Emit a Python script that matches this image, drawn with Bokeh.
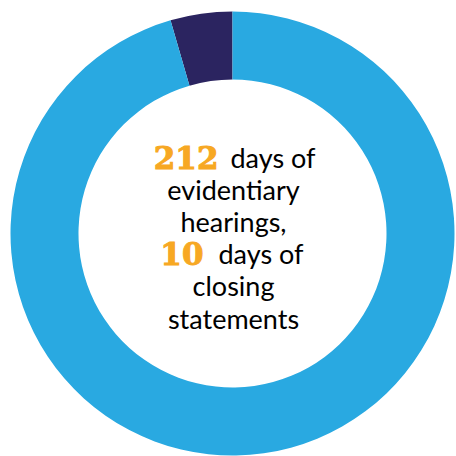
import numpy as np
from bokeh.plotting import figure
from bokeh.models import Range1d, ColumnDataSource
from bokeh.core.properties import value
from bokeh.embed import file_html
from bokeh.resources import INLINE

categories = ["closing statements", "evidentiary hearings"]
days = [10, 212]
colors = ["#2b2460", "#29a9e1"]

num_labels = ["212", "10"]
rest_labels = ["days of", "days of"]
center_lines = ["evidentiary", "hearings,", "closing", "statements"]

W = H = 456
p = figure(width=W, height=H, output_backend="svg", toolbar_location=None,
           x_range=Range1d(0, W), y_range=Range1d(0, H))
p.axis.visible = False
p.grid.visible = False
p.outline_line_color = None
p.min_border = 0
p.background_fill_color = "white"

cx, cy = 232, 223
total = sum(days)
frac = np.array(days) / total
ends = np.cumsum(frac) * 2 * np.pi
starts = np.concatenate([[0], ends[:-1]])
src = ColumnDataSource(dict(
    start=np.pi / 2 + starts,
    end=np.pi / 2 + ends,
    color=colors,
    cat=categories,
))
p.annular_wedge(x=cx, y=cy, inner_radius=154, outer_radius=222,
                start_angle="start", end_angle="end", color="color",
                line_color=None, source=src, direction="anticlock")

sans = value("Lato")
num_font = value("DejaVu Serif")
orange = "#f7a823"
fs = "27px"

# line 1: 212 days of
p.text(x=[218], y=[299], text=[num_labels[0]], text_font=num_font,
       text_font_style="bold", text_font_size="31px", text_color=orange,
       text_outline_color=orange,
       text_align="right", text_baseline="alphabetic")
p.text(x=[230], y=[299], text=[rest_labels[0]], text_font=sans,
       text_font_size=fs, text_color="black",
       text_align="left", text_baseline="alphabetic")
# line 4: 10 days of
p.text(x=[203], y=[203], text=[num_labels[1]], text_font=num_font,
       text_font_style="bold", text_font_size="31px", text_color=orange,
       text_outline_color=orange,
       text_align="right", text_baseline="alphabetic")
p.text(x=[218], y=[203], text=[rest_labels[1]], text_font=sans,
       text_font_size=fs, text_color="black",
       text_align="left", text_baseline="alphabetic")
# centered lines
p.text(x=[233, 233, 233, 233], y=[267, 235, 171, 138], text=center_lines,
       text_font=sans, text_font_size=fs, text_color="black",
       text_align="center", text_baseline="alphabetic")

open("out.html", "w").write(file_html(p, INLINE))
